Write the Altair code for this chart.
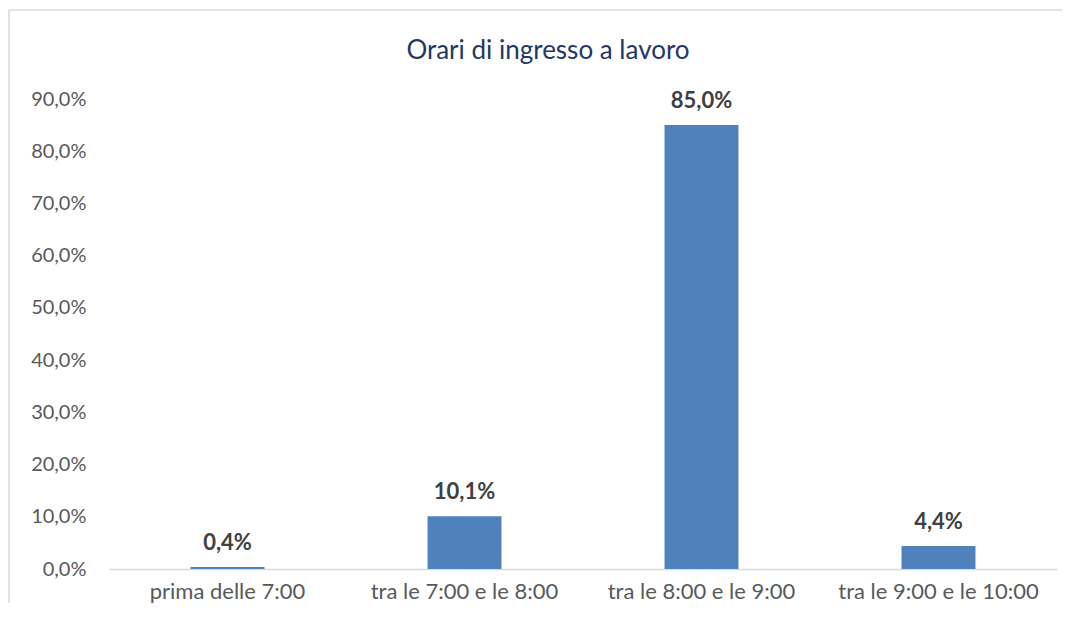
import altair as alt
import pandas as pd

categories = ["prima delle 7:00", "tra le 7:00 e le 8:00", "tra le 8:00 e le 9:00", "tra le 9:00 e le 10:00"]
values = [0.004, 0.101, 0.850, 0.044]
y_ticks = [0.0, 0.1, 0.2, 0.3, 0.4, 0.5, 0.6, 0.7, 0.8, 0.9]
title_text = "Orari di ingresso a lavoro"

df = pd.DataFrame({"cat": categories, "val": values})

FONT = "Lato"
x_enc = alt.X("cat:N", sort=categories, title=None,
              scale=alt.Scale(paddingInner=0.688, paddingOuter=0.344),
              axis=alt.Axis(labelAngle=0, labelFontSize=22, labelColor="#595959", labelFont=FONT,
                            labelLimit=0, ticks=False, domainColor="#D9D9D9", domainWidth=1.5,
                            labelPadding=12, grid=False))
y_enc = alt.Y("val:Q", title=None,
              scale=alt.Scale(domain=[0, 0.9], nice=False),
              axis=alt.Axis(values=y_ticks, labelExpr="replace(format(datum.value, '.1%'), '.', ',')",
                            labelFontSize=20, labelColor="#595959", labelFont=FONT,
                            ticks=False, domain=False, grid=False, labelPadding=23))

base = alt.Chart(df)
bars = base.mark_bar(color="#4F81BD").encode(x=x_enc, y=y_enc)
labels = base.transform_calculate(
    lab="replace(format(datum.val, '.1%'), '.', ',')"
).mark_text(fontWeight="bold", fontSize=22, color="#404040", font=FONT, baseline="bottom", dy=-12).encode(
    x=alt.X("cat:N", sort=categories), y="val:Q", text="lab:N")

one = pd.DataFrame({"t": [title_text]})
title_mark = alt.Chart(one).mark_text(fontSize=26, font=FONT, color="#1F3864", align="center",
                                      baseline="alphabetic", clip=False).encode(
    x=alt.value(439), y=alt.value(-40), text="t:N")

border_top = alt.Chart(one).mark_rule(color="#D9D9D9", strokeWidth=1.5, clip=False).encode(
    x=alt.value(-100), x2=alt.value(970), y=alt.value(-89))
border_left = alt.Chart(one).mark_rule(color="#D9D9D9", strokeWidth=1.5, clip=False).encode(
    x=alt.value(-100), y=alt.value(-89), y2=alt.value(530))

chart = alt.layer(border_top, border_left, title_mark, bars, labels).properties(
    width=948, height=470,
    background="white",
    autosize=alt.AutoSizeParams(type="none"),
    padding={"left": 101, "top": 91, "right": 5, "bottom": 34},
).configure_view(strokeWidth=0, stroke="transparent")

chart.save("out.html", embed_options={"renderer": "svg", "actions": False})
